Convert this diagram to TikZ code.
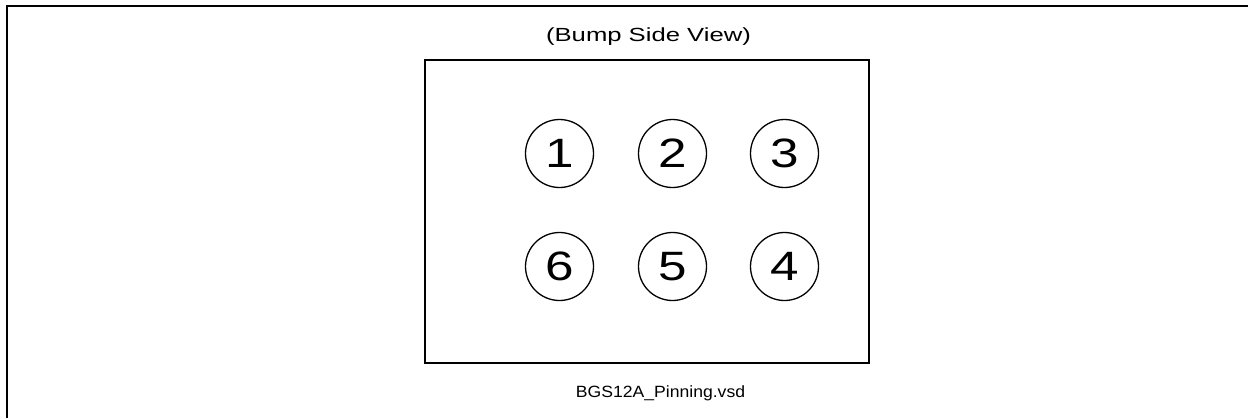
\documentclass[tikz,border=0pt]{standalone}
\usepackage{fontspec}
\setmainfont{Liberation Sans}
\usepackage{graphicx}

\newcommand{\widetext}[2]{\scalebox{#1}[1]{#2}}

\begin{document}
\begin{tikzpicture}[x=1pt, y=-1pt]
        \useasboundingbox (0,0) rectangle (1248,418);
        \tikzset{bump/.style={circle, draw, line width=1.3pt, minimum size=68pt, inner sep=0pt, font=\fontsize{41}{41}\selectfont}}

        \draw[line width=2pt] (7,418) -- (7,6) -- (1248,6);

        \node[anchor=base, font=\fontsize{19}{19}\selectfont] (title) at (648.5, 41) {\widetext{1.35}{(Bump Side View)}};
        \node[draw, line width=2pt, minimum width=444pt, minimum height=303pt, inner sep=0pt] (chip) at (647, 211.5) {};

        \node[bump] (b1) at (559.5, 153.5) {\widetext{1.25}{1}};
        \node[bump] (b2) at (672.5, 153.5) {\widetext{1.25}{2}};
        \node[bump] (b3) at (784.5, 153.5) {\widetext{1.25}{3}};

        \node[bump] (b6) at (559.5, 266.5) {\widetext{1.25}{6}};
        \node[bump] (b5) at (672.5, 266.5) {\widetext{1.25}{5}};
        \node[bump] (b4) at (784.5, 266.5) {\widetext{1.25}{4}};

        \node[anchor=base, font=\fontsize{16.3}{16.3}\selectfont] (file) at (660.5, 397) {\widetext{1.08}{BGS12A\_Pinning.vsd}};
    \end{tikzpicture}
\end{document}
